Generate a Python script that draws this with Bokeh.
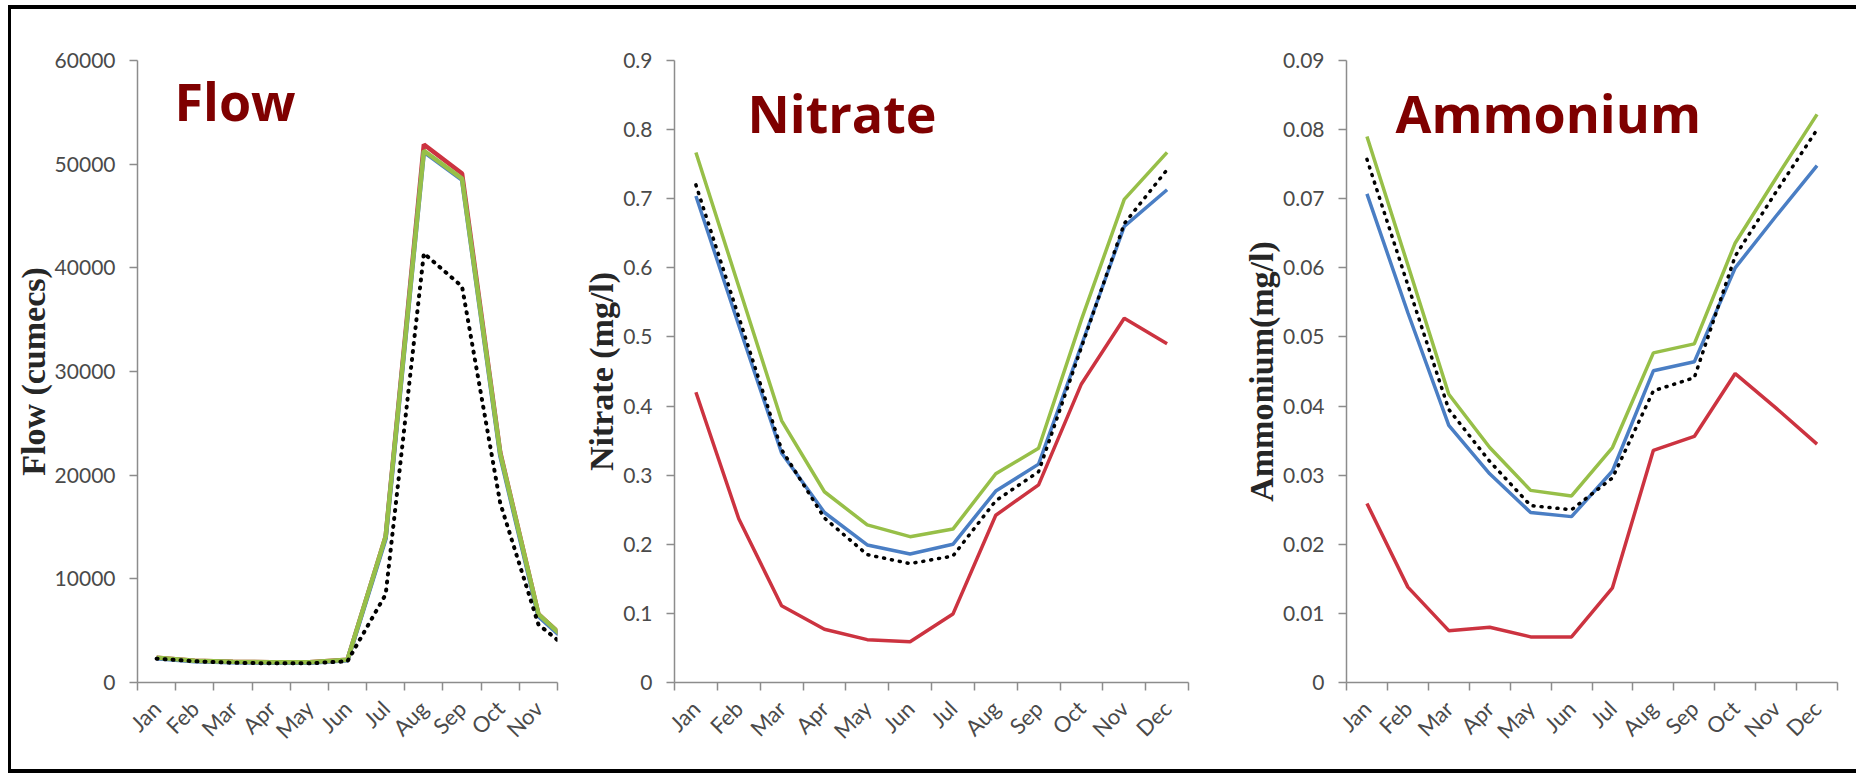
from math import pi

from bokeh.embed import file_html
from bokeh.layouts import column, row
from bokeh.models import Div, FixedTicker, Label, NumeralTickFormatter, Range1d
from bokeh.plotting import figure
from bokeh.resources import INLINE

# ---- data -------------------------------------------------------------
months = ["Jan", "Feb", "Mar", "Apr", "May", "Jun",
          "Jul", "Aug", "Sep", "Oct", "Nov", "Dec"]

# Flow (cumecs)
flow_red = [2400, 2100, 2000, 1950, 1950, 2200, 14100, 51900, 49100, 22200, 6600, 3200]
flow_blue = [2350, 2050, 1950, 1900, 1900, 2150, 13900, 51200, 48500, 21900, 6400, 3100]
flow_green = [2400, 2100, 2000, 1950, 1950, 2200, 14100, 51300, 48600, 22100, 6600, 3200]
flow_dotted = [2300, 2050, 1900, 1850, 1850, 2050, 8500, 41400, 38200, 17300, 5600, 2600]
flow_ticks = [0, 10000, 20000, 30000, 40000, 50000, 60000]

# Nitrate (mg/l)
nit_red = [0.420, 0.237, 0.111, 0.077, 0.062, 0.059, 0.099, 0.242, 0.286, 0.432, 0.527, 0.490]
nit_blue = [0.704, 0.517, 0.332, 0.246, 0.199, 0.186, 0.200, 0.277, 0.316, 0.488, 0.660, 0.713]
nit_green = [0.767, 0.573, 0.379, 0.276, 0.228, 0.211, 0.222, 0.302, 0.339, 0.525, 0.699, 0.767]
nit_dotted = [0.720, 0.529, 0.337, 0.238, 0.185, 0.172, 0.183, 0.263, 0.305, 0.485, 0.664, 0.742]
nit_ticks = [0, 0.1, 0.2, 0.3, 0.4, 0.5, 0.6, 0.7, 0.8, 0.9]

# Ammonium (mg/l)
amm_red = [0.0259, 0.0138, 0.0075, 0.0080, 0.0066, 0.0066, 0.0137, 0.0336, 0.0356, 0.0447, 0.0397, 0.0345]
amm_blue = [0.0707, 0.0535, 0.0372, 0.0302, 0.0246, 0.0240, 0.0306, 0.0451, 0.0464, 0.0600, 0.0675, 0.0748]
amm_green = [0.0790, 0.0604, 0.0417, 0.0340, 0.0278, 0.0270, 0.0340, 0.0477, 0.0490, 0.0636, 0.0730, 0.0822]
amm_dotted = [0.0757, 0.0575, 0.0395, 0.0320, 0.0256, 0.0250, 0.0296, 0.0422, 0.0441, 0.0617, 0.0710, 0.0800]
amm_ticks = [0, 0.01, 0.02, 0.03, 0.04, 0.05, 0.06, 0.07, 0.08, 0.09]

# ---- styling ----------------------------------------------------------
RED = "#cc3340"
BLUE = "#4a7ec4"
GREEN = "#97bf48"
AXIS = "#8c8c8c"
TICK_TEXT = "#4a4a4a"
TITLE_RED = "#7f0000"
PLOT_H = 760

xs = list(range(1, len(months) + 1))
bounds = [i + 0.5 for i in range(len(months) + 1)]


def panel(width, left, right, top, bottom, x_end, y_max, y_ticks, fmt,
          y_label, label_standoff):
    p = figure(width=width, height=PLOT_H,
               x_range=Range1d(0.5, x_end), y_range=Range1d(0, y_max),
               output_backend="svg", toolbar_location=None,
               min_border_left=left, min_border_right=right,
               min_border_top=top, min_border_bottom=bottom)
    p.outline_line_color = None
    p.xgrid.visible = False
    p.ygrid.visible = False
    p.background_fill_color = "white"
    p.border_fill_color = "white"

    xa = p.xaxis[0]
    xa.ticker = FixedTicker(ticks=xs, minor_ticks=bounds)
    xa.major_label_overrides = {x: m for x, m in zip(xs, months)}
    xa.major_label_orientation = pi / 4
    xa.major_tick_out = 0
    xa.major_tick_in = 0
    xa.minor_tick_out = 8
    xa.minor_tick_in = 0
    xa.minor_tick_line_color = AXIS
    xa.minor_tick_line_width = 1.5
    xa.axis_line_color = AXIS
    xa.axis_line_width = 1.5
    xa.major_label_text_font = "Lato"
    xa.major_label_text_font_size = "22px"
    xa.major_label_text_color = TICK_TEXT
    xa.major_label_standoff = 14

    ya = p.yaxis[0]
    ya.ticker = FixedTicker(ticks=y_ticks, minor_ticks=[])
    ya.formatter = NumeralTickFormatter(format=fmt)
    ya.major_tick_out = 8
    ya.major_tick_in = 0
    ya.major_tick_line_color = AXIS
    ya.major_tick_line_width = 1.5
    ya.minor_tick_line_color = None
    ya.axis_line_color = AXIS
    ya.axis_line_width = 1.5
    ya.major_label_text_font = "Lato"
    ya.major_label_text_font_size = "21px"
    ya.major_label_text_color = TICK_TEXT
    ya.major_label_standoff = 14
    ya.axis_label = y_label
    ya.axis_label_text_font = "Liberation Serif"
    ya.axis_label_text_font_style = "bold"
    ya.axis_label_text_font_size = "34px"
    ya.axis_label_text_color = "#262626"
    ya.axis_label_standoff = label_standoff
    return p


def series(p, red, blue, green, dotted, lw, dot_w):
    p.line(xs, red, line_color=RED, line_width=lw)
    p.line(xs, blue, line_color=BLUE, line_width=lw)
    p.line(xs, green, line_color=GREEN, line_width=lw)
    p.line(xs, dotted, line_color="black", line_width=dot_w,
           line_dash="1 7", line_cap="round")


def title(p, text, x, y):
    p.add_layout(Label(x=x, y=y, x_units="canvas", y_units="canvas", text=text,
                       text_font="Open Sans", text_font_style="bold",
                       text_font_size="52px", text_color=TITLE_RED,
                       text_align="left", text_baseline="alphabetic"))


# ---- Flow -------------------------------------------------------------
p1 = panel(569, 116, 23, 49, 85, 11.5, 60000, flow_ticks, "0",
           "Flow (cumecs)", 0)
series(p1, flow_red, flow_blue, flow_green, flow_dotted, 4.5, 4)
title(p1, "Flow", 163, 91)

# ---- Nitrate ----------------------------------------------------------
p2 = panel(660, 94, 52, 51, 84, 12.5, 0.9, nit_ticks, "0.[00]",
           "Nitrate (mg/l)", 0)
series(p2, nit_red, nit_blue, nit_green, nit_dotted, 3.5, 3.5)
title(p2, "Nitrate", 167, 103)

# ---- Ammonium ---------------------------------------------------------
p3 = panel(616, 103, 19, 15, 87, 12.5, 0.09, amm_ticks, "0.[00]",
           "Ammonium(mg/l)", 0)
series(p3, amm_red, amm_blue, amm_green, amm_dotted, 3.5, 3.5)
title(p3, "Ammonium", 155, 103)


# ---- black frame around the three panels ------------------------------
def block(w, h, color="white"):
    return Div(width=w, height=h, margin=0,
               styles={"background-color": color})


top_bar = row(block(8, 4), block(1848, 4, "black"), spacing=0)
bottom_bar = row(block(8, 4), block(1848, 4, "black"), spacing=0)
middle = row(block(8, PLOT_H), block(3, PLOT_H, "black"), p1, p2, p3, spacing=0)
layout = column(block(1856, 5), top_bar, middle, bottom_bar, spacing=0)

with open("out.html", "w") as f:
    f.write(file_html(layout, INLINE))
